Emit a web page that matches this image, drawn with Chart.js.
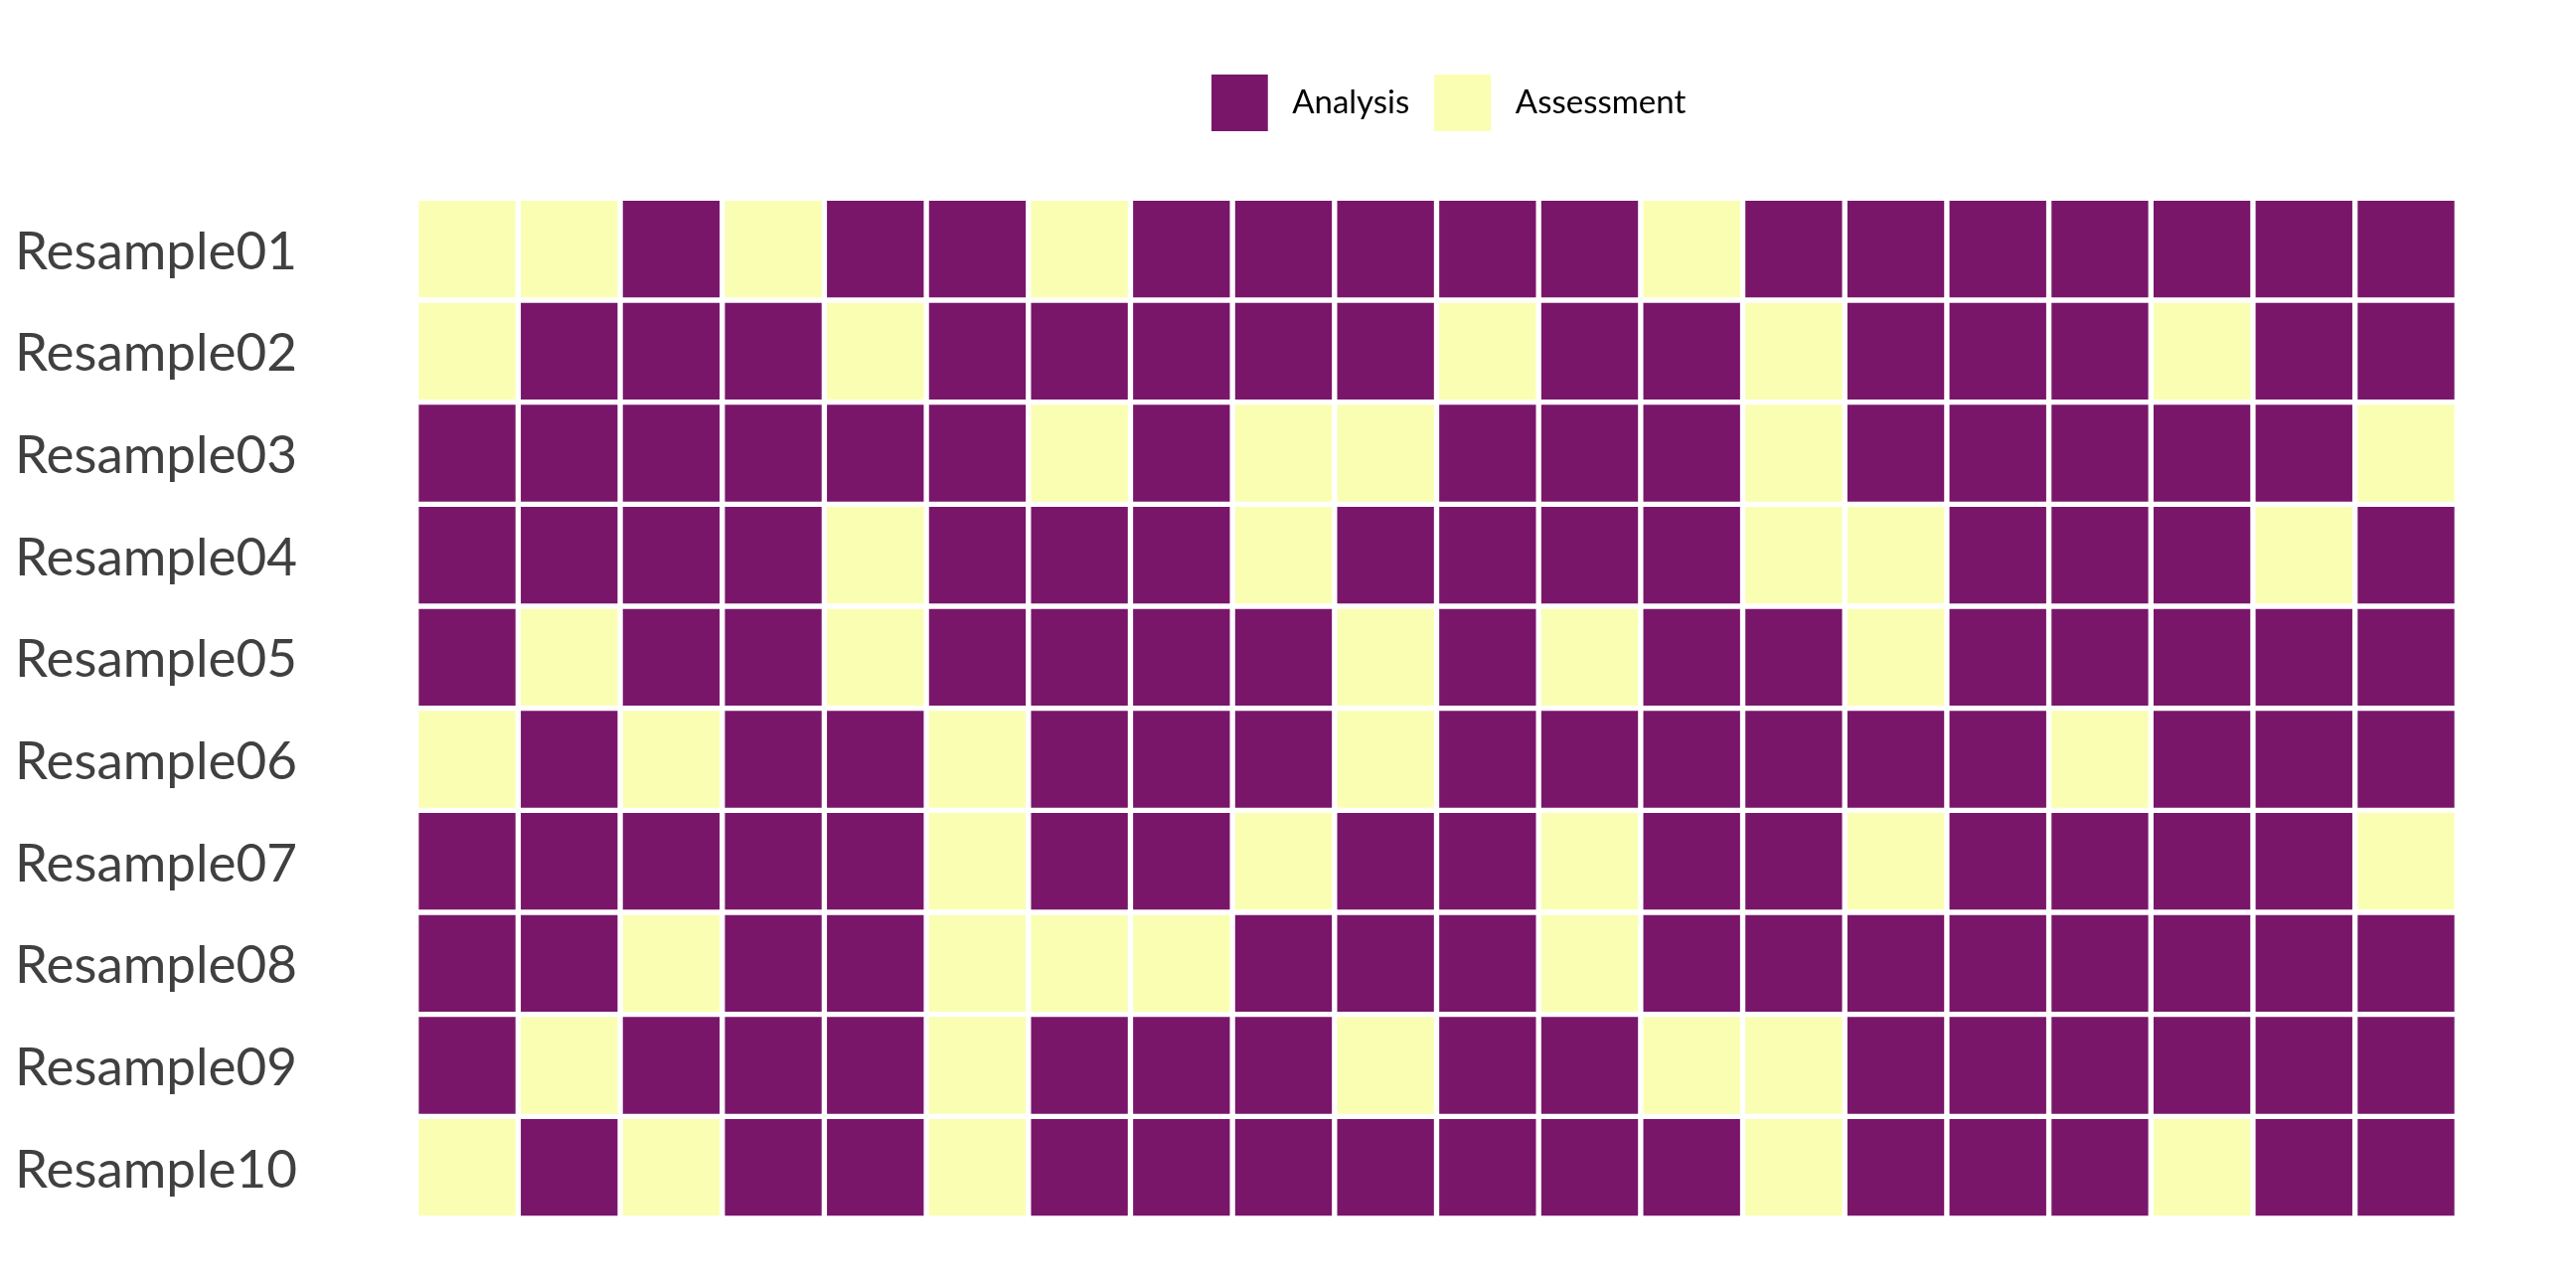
<!DOCTYPE html>
<html>
<head>
<meta charset="utf-8">
<script src="https://cdn.jsdelivr.net/npm/chart.js@4/dist/chart.umd.min.js"></script>
<style>
  html, body { margin: 0; padding: 0; background: #ffffff; }
  #wrap { width: 2592px; height: 1296px; }
</style>
</head>
<body>
<div id="wrap"><canvas id="c" width="2592" height="1296"></canvas></div>
<script>
// ---- data ----
const resamples = ['Resample01','Resample02','Resample03','Resample04','Resample05',
                   'Resample06','Resample07','Resample08','Resample09','Resample10'];
const roleNames = ['Analysis', 'Assessment'];
// one entry per column (20 columns): 0 = Analysis, 1 = Assessment
const resample01 = [1,1,0,1,0,0,1,0,0,0,0,0,1,0,0,0,0,0,0,0];
const resample02 = [1,0,0,0,1,0,0,0,0,0,1,0,0,1,0,0,0,1,0,0];
const resample03 = [0,0,0,0,0,0,1,0,1,1,0,0,0,1,0,0,0,0,0,1];
const resample04 = [0,0,0,0,1,0,0,0,1,0,0,0,0,1,1,0,0,0,1,0];
const resample05 = [0,1,0,0,1,0,0,0,0,1,0,1,0,0,1,0,0,0,0,0];
const resample06 = [1,0,1,0,0,1,0,0,0,1,0,0,0,0,0,0,1,0,0,0];
const resample07 = [0,0,0,0,0,1,0,0,1,0,0,1,0,0,1,0,0,0,0,1];
const resample08 = [0,0,1,0,0,1,1,1,0,0,0,1,0,0,0,0,0,0,0,0];
const resample09 = [0,1,0,0,0,1,0,0,0,1,0,0,1,1,0,0,0,0,0,0];
const resample10 = [1,0,1,0,0,1,0,0,0,0,0,0,0,1,0,0,0,1,0,0];
const rows = [resample01, resample02, resample03, resample04, resample05,
              resample06, resample07, resample08, resample09, resample10];

// ---- styles ----
const COLORS = ['#79166A', '#FAFEB3'];

function buildData(role) {
  const out = [];
  rows.forEach((row, r) => {
    row.forEach((v, c) => {
      if (v === role) out.push({ y: resamples[r], x: [c, c + 1] });
    });
  });
  return out;
}

const datasets = roleNames.map((name, i) => ({
  label: name,
  data: buildData(i),
  backgroundColor: COLORS[i],
  borderColor: '#ffffff',
  borderWidth: 3,
  borderSkipped: false,
  grouped: false,
  barPercentage: 1,
  categoryPercentage: 1
}));

// legend swatches: 57x57 square with extra transparent room on the right
const SW = 57, SW_ROOM = 65;
function makeSwatch(color) {
  const cv = document.createElement('canvas');
  cv.width = SW_ROOM; cv.height = SW;
  const cx = cv.getContext('2d');
  cx.fillStyle = color;
  cx.fillRect(0, 0, SW, SW);
  return cv;
}
const swatches = COLORS.map(makeSwatch);

const LEGEND_TOP = 61.8;
const AREA_TOP = 199.3;
const LEGEND_SHIFT_X = 12;

const legendSpacer = {
  id: 'legendSpacer',
  afterInit(chart) {
    const lg = chart.legend;
    if (!lg || lg._patched) return;
    const orig = lg.fit;
    lg.fit = function () {
      orig.call(this);
      this.height = AREA_TOP - LEGEND_TOP;
    };
    lg._patched = true;
  },
  afterLayout(chart) {
    const lg = chart.legend;
    if (!lg) return;
    lg.left += LEGEND_SHIFT_X;
    lg.right += LEGEND_SHIFT_X;
  }
};

new Chart(document.getElementById('c'), {
  type: 'bar',
  data: { labels: resamples, datasets },
  plugins: [legendSpacer],
  options: {
    indexAxis: 'y',
    responsive: false,
    animation: false,
    devicePixelRatio: 1,
    layout: { padding: { top: LEGEND_TOP, left: 15, right: 119.7, bottom: 70 } },
    scales: {
      x: {
        type: 'linear', min: 0, max: 20, display: false, stacked: false
      },
      y: {
        type: 'category',
        grid: { display: false },
        border: { display: false },
        ticks: {
          autoSkip: false,
          crossAlign: 'far',
          padding: 0,
          labelOffset: 3,
          color: '#404040',
          font: { family: 'Lato', size: 53 }
        },
        afterFit(scale) { scale.width = 403.7; }
      }
    },
    plugins: {
      tooltip: { enabled: false },
      legend: {
        position: 'top',
        align: 'center',
        fullSize: false,
        labels: {
          usePointStyle: true,
          pointStyleWidth: SW_ROOM,
          padding: 25,
          color: '#000000',
          font: { family: 'Lato', size: 33 },
          generateLabels(chart) {
            const items = Chart.defaults.plugins.legend.labels.generateLabels(chart);
            items.forEach((it, i) => {
              it.lineWidth = 0;
              it.strokeStyle = it.fillStyle;
              it.pointStyle = swatches[i];
            });
            return items;
          }
        }
      }
    }
  }
});
</script>
</body>
</html>
